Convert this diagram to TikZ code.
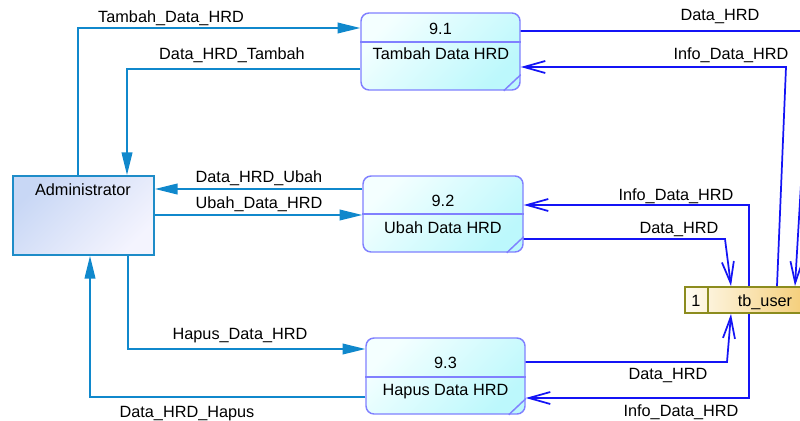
\documentclass[tikz,border=0pt]{standalone}
\usepackage{fontspec}
\setmainfont{Liberation Sans}
\usepackage{xcolor}
\usepackage{tikz}
\usetikzlibrary{shapes,arrows.meta,positioning,calc}

\definecolor{flowblue}{RGB}{16,136,204}
\definecolor{dbblue}{RGB}{20,20,245}
\definecolor{procline}{RGB}{128,128,255}
\definecolor{procA}{RGB}{244,255,255}
\definecolor{procB}{RGB}{188,248,252}
\definecolor{entline}{RGB}{30,140,200}
\definecolor{entA}{RGB}{200,215,245}
\definecolor{entB}{RGB}{244,244,254}
\definecolor{storeline}{RGB}{140,140,30}
\definecolor{storeA}{RGB}{255,252,242}
\definecolor{storeB}{RGB}{242,196,96}

\begin{document}
\begin{tikzpicture}[x=0.75pt, y=-0.75pt, font=\fontsize{12.2}{14}\selectfont,
    lbl/.style={anchor=base, inner sep=0pt},
    entity/.style={draw=entline, line width=1.4pt, top color=entA, bottom color=entB, shading angle=45},
    proc/.style={draw=procline, line width=1.1pt, rounded corners=6pt, top color=procA, bottom color=procB, shading angle=45},
    procsep/.style={draw=procline, line width=1.1pt},
    store/.style={draw=storeline, line width=1.4pt, left color=storeA, right color=storeB},
    flowin/.style={draw=flowblue, line width=1.3pt, -{Triangle[length=17pt,width=8pt]}},
    dbflow/.style={draw=dbblue, line width=1.3pt, -{Straight Barb[length=16pt,width=9pt]}}]
    \useasboundingbox (0,0) rectangle (800,421);
    \clip (0,0) rectangle (800,421);

    % external entity
    \node[entity, minimum width=105.75pt, minimum height=59.25pt] (adm) at (83.5,215.5) {};
    \node[lbl] (admtxt) at (83,195) {Administrator};

    % processes
    \node[proc, minimum width=119.25pt, minimum height=57.75pt] (p1) at (440.5,51.5) {};
    \draw[procsep] (p1.west |- 0,42) -- (p1.east |- 0,42);
    \draw[procsep] ($(p1.south east)+(-17,0)$) -- ($(p1.south east)+(0,-16)$);
    \node[lbl] (p1num) at (440.5,34) {9.1};
    \node[lbl] (p1name) at (441,60) {Tambah Data HRD};

    \node[proc, minimum width=120pt, minimum height=57pt] (p2) at (443,214) {};
    \draw[procsep] (p2.west |- 0,214) -- (p2.east |- 0,214);
    \draw[procsep] ($(p2.south east)+(-17,0)$) -- ($(p2.south east)+(0,-16)$);
    \node[lbl] (p2num) at (443,206) {9.2};
    \node[lbl] (p2name) at (443,233) {Ubah Data HRD};

    \node[proc, minimum width=119.25pt, minimum height=57pt] (p3) at (445.5,376) {};
    \draw[procsep] (p3.west |- 0,377) -- (p3.east |- 0,377);
    \draw[procsep] ($(p3.south east)+(-17,0)$) -- ($(p3.south east)+(0,-16)$);
    \node[lbl] (p3num) at (445.5,368) {9.3};
    \node[lbl] (p3name) at (445.5,395) {Hapus Data HRD};

    % data store
    \node[store, minimum width=108.75pt, minimum height=19.5pt] (st) at (757.5,300) {};
    \draw[draw=storeline, line width=1.4pt] (st.north -| 708,0) -- (st.south -| 708,0);
    \node[lbl] (stnum) at (696,306) {1};
    \node[lbl] (stname) at (765,306) {tb\_user};

    % flows to and from the administrator
    \draw[flowin] (adm.north -| 78,0) |- (p1.west |- 0,28);
    \draw[flowin] (p1.west |- 0,69) -| (adm.north -| 127,0);
    \draw[flowin] (p2.west |- 0,189) -- (adm.east |- 0,189);
    \draw[flowin] (adm.east |- 0,215) -- (p2.west |- 0,215);
    \draw[flowin] (adm.south -| 128,0) |- (p3.west |- 0,349);
    \draw[flowin] (p3.west |- 0,397) -| (adm.south -| 90,0);

    \node[lbl] (f1) at (171,22) {Tambah\_Data\_HRD};
    \node[lbl] (f2) at (232,60) {Data\_HRD\_Tambah};
    \node[lbl] (f3) at (259,182) {Data\_HRD\_Ubah};
    \node[lbl] (f4) at (259,208) {Ubah\_Data\_HRD};
    \node[lbl] (f5) at (240,339) {Hapus\_Data\_HRD};
    \node[lbl] (f6) at (187,417) {Data\_HRD\_Hapus};

    % flows to and from tb_user
    \draw[dbflow] (p1.east |- 0,31) -- (810,31) -- (st.north -| 795,0);
    \draw[dbflow] (st.north -| 777,0) -- (786,67) -- (p1.east |- 0,67);
    \draw[dbflow] (st.north -| 749,0) -- (749,205) -- (p2.east |- 0,205);
    \draw[dbflow] (p2.east |- 0,239) -- (725,239) -- (st.north -| 731,0);
    \draw[dbflow] (p3.east |- 0,362) -- (727,362) -- (st.south -| 731,0);
    \draw[dbflow] (st.south -| 749,0) -- (749,398) -- (p3.east |- 0,398);

    \node[lbl] (d1) at (720,21) {Data\_HRD};
    \node[lbl] (d2) at (731,60) {Info\_Data\_HRD};
    \node[lbl] (d3) at (676,200) {Info\_Data\_HRD};
    \node[lbl] (d4) at (679,233) {Data\_HRD};
    \node[lbl] (d5) at (668,379) {Data\_HRD};
    \node[lbl] (d6) at (681,416) {Info\_Data\_HRD};
\end{tikzpicture}
\end{document}
